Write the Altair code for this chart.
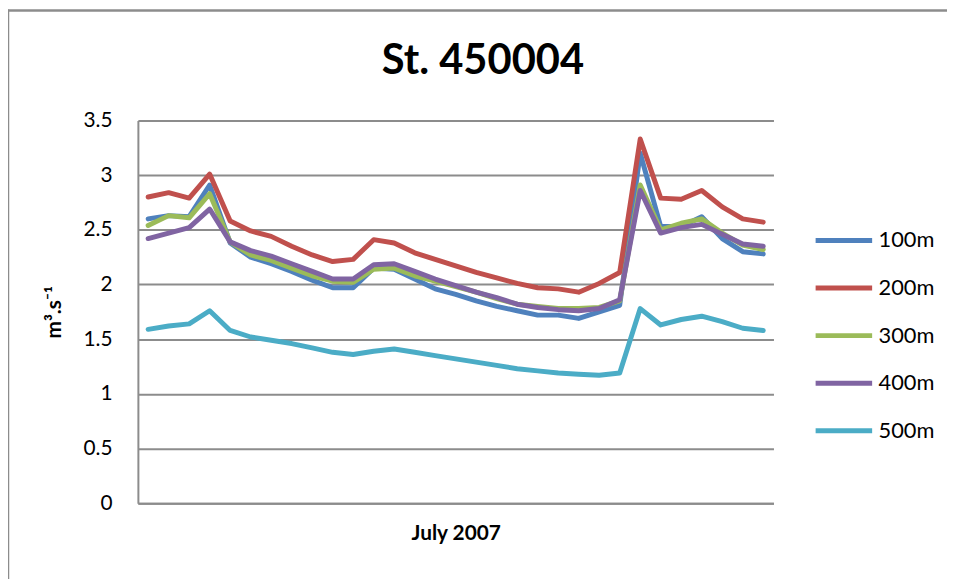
import altair as alt
import pandas as pd

days = list(range(1, 32))
series_names = ["100m", "200m", "300m", "400m", "500m"]
colors = ["#4F81BD", "#C0504D", "#9BBB59", "#8064A2", "#4BACC6"]

s100 = [2.60, 2.63, 2.62, 2.91, 2.38, 2.25, 2.19, 2.12, 2.04, 1.97, 1.97, 2.15, 2.14, 2.05, 1.96, 1.91,
        1.85, 1.80, 1.76, 1.72, 1.72, 1.69, 1.75, 1.81, 3.20, 2.53, 2.53, 2.62, 2.42, 2.30, 2.28]
s200 = [2.80, 2.84, 2.79, 3.01, 2.58, 2.49, 2.44, 2.35, 2.27, 2.21, 2.23, 2.41, 2.38, 2.29, 2.23, 2.17,
        2.11, 2.06, 2.01, 1.97, 1.96, 1.93, 2.01, 2.11, 3.33, 2.79, 2.78, 2.86, 2.71, 2.60, 2.57]
s300 = [2.54, 2.63, 2.61, 2.83, 2.39, 2.27, 2.22, 2.15, 2.08, 2.03, 2.02, 2.14, 2.15, 2.08, 2.03, 1.98,
        1.93, 1.87, 1.82, 1.80, 1.78, 1.78, 1.79, 1.85, 2.91, 2.50, 2.56, 2.60, 2.47, 2.36, 2.32]
s400 = [2.42, 2.47, 2.52, 2.69, 2.39, 2.31, 2.26, 2.19, 2.12, 2.05, 2.05, 2.18, 2.19, 2.12, 2.05, 1.99,
        1.93, 1.88, 1.82, 1.79, 1.77, 1.76, 1.78, 1.86, 2.86, 2.47, 2.52, 2.55, 2.46, 2.37, 2.35]
s500 = [1.59, 1.62, 1.64, 1.76, 1.58, 1.52, 1.49, 1.46, 1.42, 1.38, 1.36, 1.39, 1.41, 1.38, 1.35, 1.32,
        1.29, 1.26, 1.23, 1.21, 1.19, 1.18, 1.17, 1.19, 1.78, 1.63, 1.68, 1.71, 1.66, 1.60, 1.58]

y_ticks = [0, 0.5, 1, 1.5, 2, 2.5, 3, 3.5]
chart_title = "St. 450004"

all_series = [s100, s200, s300, s400, s500]
rows = []
for name, vals in zip(series_names, all_series):
    for d, v in zip(days, vals):
        rows.append({"day": d, "series": name, "value": v})
df = pd.DataFrame(rows)
title_df = pd.DataFrame({"label": [chart_title]})

FONT = "Lato"

lines = alt.Chart(df).mark_line(strokeWidth=5, strokeJoin="round", strokeCap="round").encode(
    x=alt.X("day:O", title="July 2007",
            axis=alt.Axis(labels=False, ticks=False, grid=False, domainColor="#8c8c8c",
                          domainWidth=2, titleFontSize=21, titleFont=FONT, titleFontWeight="bold",
                          titleColor="#000000", titlePadding=20)),
    y=alt.Y("value:Q", title="m³.s⁻¹",
            scale=alt.Scale(domain=[0, 3.5], nice=False, zero=True),
            axis=alt.Axis(values=y_ticks, format="~g", ticks=False, grid=True, gridColor="#8c8c8c",
                          gridWidth=2, domainColor="#8c8c8c", domainWidth=2,
                          labelFontSize=21, labelFont=FONT, labelColor="#000000", labelPadding=26,
                          titleFontSize=21, titleFont=FONT, titleFontWeight="bold", titleColor="#000000",
                          titlePadding=19)),
    color=alt.Color("series:N", scale=alt.Scale(domain=series_names, range=colors),
                    legend=alt.Legend(title=None, orient="none", legendX=681, legendY=90,
                                      symbolType="stroke", symbolSize=3249, symbolStrokeWidth=5,
                                      labelFontSize=22, labelFont=FONT, labelColor="#000000",
                                      labelOffset=4, rowPadding=6, padding=0)),
    order=alt.Order("day:Q"),
)

title_mark = alt.Chart(title_df).mark_text(font=FONT, fontSize=42, fontWeight="bold", color="#000000",
                                           align="center", baseline="alphabetic").encode(
    x=alt.value(348), y=alt.value(-47), text="label:N")

border_left = alt.Chart(title_df).mark_rule(color="#8c8c8c", strokeWidth=2.5).encode(
    x=alt.value(-131), y=alt.value(-112), y2=alt.value(470))
border_top = alt.Chart(title_df).mark_rule(color="#8c8c8c", strokeWidth=2.5).encode(
    x=alt.value(-131), x2=alt.value(820), y=alt.value(-111))

chart = alt.layer(border_left, border_top, title_mark, lines).properties(
    width=641, height=386,
    padding={"left": 131, "top": 111, "right": 175, "bottom": 74},
    autosize=alt.AutoSizeParams(type="none"),
).configure_view(stroke=None)

chart.save("out.html", embed_options={"renderer": "svg", "actions": False})
